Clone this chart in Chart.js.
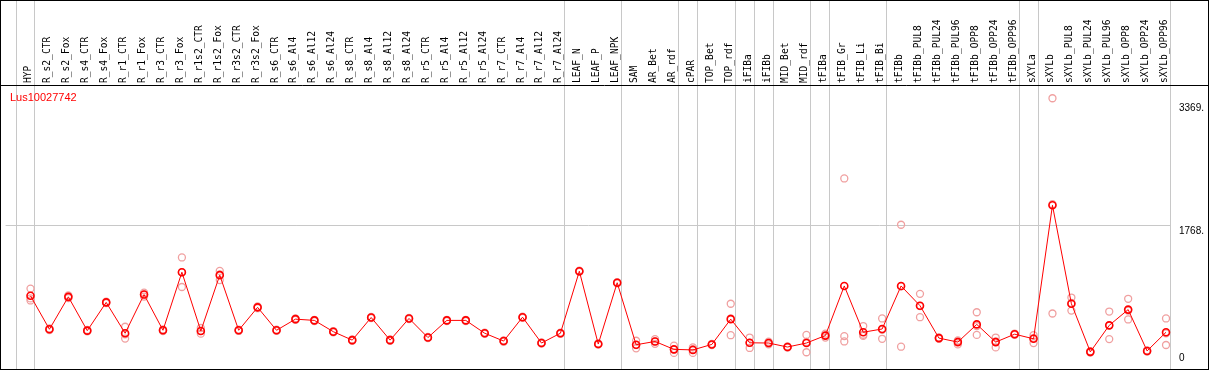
<!DOCTYPE html>
<html>
<head>
<meta charset="utf-8">
<script src="https://cdn.jsdelivr.net/npm/chart.js@4.4.1/dist/chart.umd.min.js"></script>
<style>
  html, body { margin: 0; padding: 0; background: #fff; }
  #wrap { width: 1209px; height: 370px; }
</style>
</head>
<body>
<div id="wrap"><canvas id="myChart" width="1209" height="370"></canvas></div>
<script>
  // sample names (one column each)
  const categories = [
    "HYP","R_s2_CTR","R_s2_Fox","R_s4_CTR","R_s4_Fox","R_r1_CTR","R_r1_Fox","R_r3_CTR","R_r3_Fox",
    "R_r1s2_CTR","R_r1s2_Fox","R_r3s2_CTR","R_r3s2_Fox","R_s6_CTR","R_s6_Al4","R_s6_Al12","R_s6_Al24",
    "R_s8_CTR","R_s8_Al4","R_s8_Al12","R_s8_Al24","R_r5_CTR","R_r5_Al4","R_r5_Al12","R_r5_Al24",
    "R_r7_CTR","R_r7_Al4","R_r7_Al12","R_r7_Al24","LEAF_N","LEAF_P","LEAF_NPK","SAM","AR_Bet","AR_rdf",
    "cPAR","TOP_Bet","TOP_rdf","iFIBa","iFIBb","MID_Bet","MID_rdf","tFIBa","tFIB_Gr","tFIB_Li","tFIB_Bi",
    "tFIBb","tFIBb_PUL8","tFIBb_PUL24","tFIBb_PUL96","tFIBb_OPP8","tFIBb_OPP24","tFIBb_OPP96",
    "sXYLa","sXYLb","sXYLb_PUL8","sXYLb_PUL24","sXYLb_PUL96","sXYLb_OPP8","sXYLb_OPP24","sXYLb_OPP96"
  ];

  const geneName = "Lus10027742";

  // mean expression per sample
  const meanValues = [
    876, 449, 863, 431, 792, 398, 892, 436, 1177, 427, 1140, 436, 729, 436, 578, 562, 418,
    310, 599, 310, 587, 343, 562, 562, 398, 298, 603, 273, 398, 1190, 260, 1043, 251, 293, 192,
    185, 255, 578, 276, 273, 222, 273, 368, 1002, 411, 452, 1002, 750, 336, 285, 511, 285, 386,
    327, 2032, 775, 160, 499, 700, 172, 411
  ];

  // replicates (high / mid / low)
  const rep1 = [
    968, 460, 880, 440, 800, 481, 917, 446, 1366, 465, 1194, 445, 740, 444, 586, 570, 426,
    318, 607, 318, 595, 351, 570, 570, 406, 306, 611, 281, 406, 1198, 268, 1051, 302, 323, 239,
    217, 263, 775, 343, 290, 230, 377, 393, 2375, 490, 587, 1784, 901, 344, 305, 666, 343, 394,
    373, 3400, 854, 168, 675, 838, 180, 587
  ];
  const rep2 = [
    843, 449, 863, 431, 792, 383, 892, 436, 1177, 427, 1149, 436, 729, 436, 578, 562, 418,
    310, 599, 310, 587, 343, 562, 562, 398, 298, 603, 273, 398, 1190, 260, 1043, 246, 293, 190,
    191, 255, 586, 275, 273, 222, 287, 368, 361, 379, 442, 996, 746, 336, 295, 490, 295, 386,
    335, 2046, 784, 160, 499, 688, 172, 398
  ];
  const rep3 = [
    817, 438, 846, 422, 784, 330, 867, 426, 989, 393, 1077, 427, 718, 428, 570, 554, 410,
    302, 591, 302, 579, 335, 554, 554, 390, 290, 595, 265, 390, 1182, 252, 1035, 205, 263, 147,
    147, 247, 373, 210, 256, 214, 155, 343, 293, 364, 327, 226, 603, 328, 255, 377, 217, 378,
    273, 650, 687, 152, 323, 574, 164, 248
  ];

  // index of last sample in each group (-1 = line before first)
  const groupEnds = [-1, 0, 28, 31, 34, 35, 37, 38, 39, 41, 42, 45, 52, 53, 60];

  const yTicks = [0, 1768, 3369];
  const yTickLabels = ["0", "1768.", "3369."];

  const toPoints = (arr) => arr.map((v, i) => ({ x: i, y: v }));

  const frameAndText = {
    id: "frameAndText",
    beforeDraw(chart) {
      const ctx = chart.ctx;
      ctx.save();
      ctx.fillStyle = "#fff";
      ctx.fillRect(0, 0, chart.width, chart.height);
      ctx.restore();
    },
    beforeDatasetsDraw(chart) {
      // group separator lines, full height
      const ctx = chart.ctx;
      const xs = chart.scales.x;
      ctx.save();
      ctx.strokeStyle = "#c8c8c8";
      ctx.lineWidth = 1;
      groupEnds.forEach((g) => {
        const px = Math.round(xs.getPixelForValue(g + 4 / 19)) + 0.5;
        ctx.beginPath();
        ctx.moveTo(px, 0);
        ctx.lineTo(px, chart.height);
        ctx.stroke();
      });
      ctx.restore();
    },
    afterDraw(chart) {
      const ctx = chart.ctx;
      const ys = chart.scales.y;
      ctx.save();
      // outer frame + header line
      ctx.strokeStyle = "#000";
      ctx.lineWidth = 1;
      ctx.strokeRect(0.5, 0.5, chart.width - 1, chart.height - 1);
      ctx.beginPath();
      ctx.moveTo(0, 85.5);
      ctx.lineTo(chart.width, 85.5);
      ctx.stroke();

      // gene name
      ctx.fillStyle = "#ff0000";
      ctx.font = "11px 'Liberation Sans'";
      ctx.textBaseline = "alphabetic";
      ctx.textAlign = "left";
      ctx.fillText(geneName, 10, 101);

      // y labels on the right
      ctx.fillStyle = "#000";
      ctx.font = "10px 'Liberation Sans'";
      const shift = [-3, 8, 10];
      yTicks.forEach((v, i) => {
        let py = ys.getPixelForValue(v) + shift[i];
        ctx.fillText(yTickLabels[i], chart.chartArea.right + 8, py);
      });
      ctx.restore();
    }
  };

  const ctx = document.getElementById("myChart");
  const config = {
    type: "line",
    data: {
      datasets: [
        {
          data: toPoints(meanValues),
          borderColor: "#ff0000",
          borderWidth: 1,
          backgroundColor: "rgba(0,0,0,0)",
          pointBorderColor: "#ff0000",
          pointBorderWidth: 1.6,
          pointRadius: 3.5,
          tension: 0,
          order: 0,
        },
        ...[rep1, rep2, rep3].map((r) => ({
          data: toPoints(r),
          showLine: false,
          backgroundColor: "rgba(0,0,0,0)",
          pointBorderColor: "#f0a0a0",
          pointBorderWidth: 1.3,
          pointRadius: 3.5,
          order: 1,
        })),
      ],
    },
    options: {
      responsive: false,
      animation: false,
      devicePixelRatio: 1,
      layout: { padding: { left: 1, right: 0, top: 0, bottom: 1 } },
      plugins: {
        legend: { display: false },
        tooltip: { enabled: false },
      },
      scales: {
        x: {
          type: "linear",
          position: "top",
          min: -25 / 19,
          max: 60 + 5 / 19,
          afterBuildTicks: (s) => {
            s.ticks = categories.map((c, i) => ({ value: i }));
          },
          afterFit: (s) => {
            s.height = 85;
          },
          grid: { display: false, drawTicks: false },
          border: { display: false },
          ticks: {
            autoSkip: false,
            minRotation: 90,
            maxRotation: 90,
            padding: 2,
            labelOffset: 10,
            color: "#000",
            font: { family: "DejaVu Sans Mono", size: 9.6 },
            callback: (v) => categories[v] ?? "",
          },
        },
        y: {
          position: "right",
          min: 0,
          max: 3569,
          afterBuildTicks: (s) => {
            s.ticks = yTicks.map((v) => ({ value: v }));
          },
          afterFit: (s) => {
            s.width = 38;
          },
          grid: {
            drawTicks: false,
            color: (c) => (c.tick && c.tick.value === 1768 ? "#c8c8c8" : "rgba(0,0,0,0)"),
          },
          border: { display: false },
          ticks: { display: false },
        },
      },
    },
    plugins: [frameAndText],
  };

  const myChart = new Chart(ctx, config);
</script>
</body>
</html>
